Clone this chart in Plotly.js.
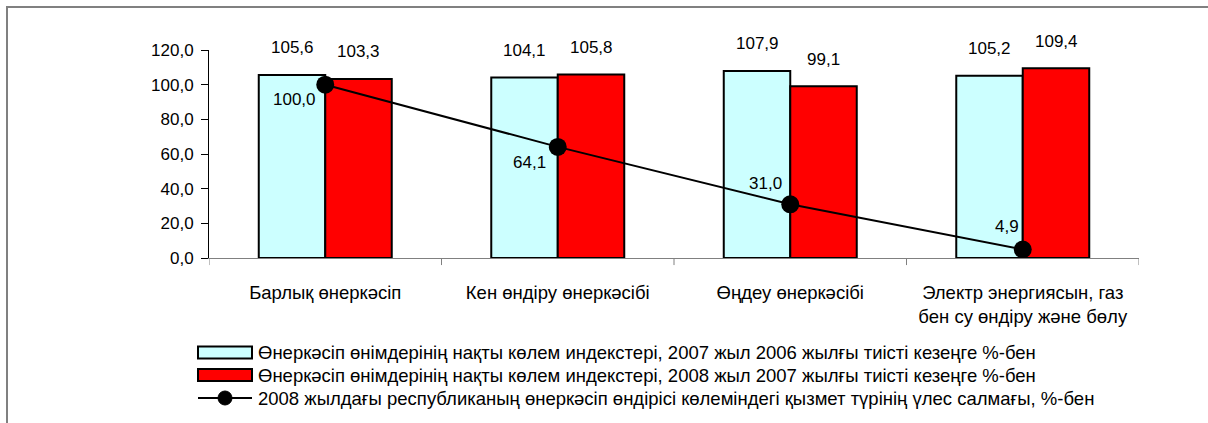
<!DOCTYPE html>
<html>
<head>
<meta charset="utf-8">
<script src="https://cdn.plot.ly/plotly-3.0.1.min.js"></script>
<style>
  html, body { margin: 0; padding: 0; background: #fff; }
  #wrap { position: relative; width: 1208px; height: 423px; overflow: hidden; }
  #chart { position: absolute; left: 0; top: 0; width: 1208px; height: 423px; }
  #frame { position: absolute; left: 6px; top: 6px; width: 1400px; height: 600px;
           border-left: 2px solid #808080; border-top: 2px solid #808080; pointer-events: none; }
</style>
</head>
<body>
<div id="wrap">
  <div id="chart"></div>
  <div id="frame"></div>
</div>
<script>
// ---- data ----
const categories = [
  "Барлық өнеркәсіп",
  "Кен өндіру өнеркәсібі",
  "Өңдеу өнеркәсібі",
  "Электр энергиясын, газ<br>бен су өндіру және бөлу"
];
const index2007 = [105.6, 104.1, 107.9, 105.2];
const index2008 = [103.3, 105.8, 99.1, 109.4];
const share2008 = [100.0, 64.1, 31.0, 4.9];
const seriesNames = [
  "Өнеркәсіп өнімдерінің нақты көлем индекстері, 2007 жыл 2006 жылғы тиісті кезеңге %-бен",
  "Өнеркәсіп өнімдерінің нақты көлем индекстері, 2008 жыл 2007 жылғы тиісті кезеңге %-бен",
  "2008 жылдағы республиканың өнеркәсіп өндірісі көлеміндегі қызмет түрінің үлес салмағы, %-бен"
];
const yTickVals = [0, 20, 40, 60, 80, 100, 120];

// ---- styles ----
const FONT = "Liberation Sans, Arial, sans-serif";
const NUM_SIZE = 17;
const TXT_SIZE = 18.5;
const BAR_COLORS = ["#CCFFFF", "#FF0000"];
const fmt = v => v.toFixed(1).replace(".", ",");
const BARGAP = 0.428;
const barHalf = (1 - BARGAP) / 4; // offset of each bar centre from category centre
const lineLabelShift = [[-31, -15], [-28, -16], [-25, 21], [-16, 23]];

// plot-area geometry (px) used to place the legend block below the plot
const PL = 209, PR = 1139, PT = 50, PB = 258;
const px2x = p => (p - PL) / (PR - PL);
const px2y = p => (PB - p) / (PB - PT);

const idx = categories.map((_, i) => i);

const traces = [
  {
    type: "bar", name: seriesNames[0], x: idx, y: index2007,
    marker: { color: BAR_COLORS[0], line: { color: "#000000", width: 2 } },
    hoverinfo: "skip"
  },
  {
    type: "bar", name: seriesNames[1], x: idx, y: index2008,
    marker: { color: BAR_COLORS[1], line: { color: "#000000", width: 2 } },
    hoverinfo: "skip"
  },
  {
    type: "scatter", mode: "lines+markers", name: seriesNames[2], x: idx, y: share2008,
    line: { color: "#000000", width: 2 },
    marker: { color: "#000000", size: 18 },
    cliponaxis: false,
    hoverinfo: "skip"
  }
];

const numFont = { family: FONT, size: NUM_SIZE, color: "#000" };
const txtFont = { family: FONT, size: TXT_SIZE, color: "#000" };
const annotations = [];
idx.forEach(i => {
  annotations.push({ x: i - barHalf, y: index2007[i], xref: "x", yref: "y", text: fmt(index2007[i]),
    showarrow: false, yshift: 27, font: numFont });
  annotations.push({ x: i + barHalf, y: index2008[i], xref: "x", yref: "y", text: fmt(index2008[i]),
    showarrow: false, yshift: 27, font: numFont });
  annotations.push({ x: i, y: share2008[i], xref: "x", yref: "y", text: fmt(share2008[i]),
    showarrow: false, xshift: lineLabelShift[i][0], yshift: lineLabelShift[i][1],
    font: numFont });
});

// legend block (symbols + names)
const legRowsY = [352.5, 375, 398];
const legSymX0 = 198, legSymX1 = 252, legTextX = 256;
const shapes = [-0.5, 0.5, 1.5, 2.5, 3.5].map(b => ({
  type: "line", xref: "x", yref: "paper", x0: b, x1: b, y0: 0, y1: -0.034,
  line: { color: "#808080", width: 1 }
}));
seriesNames.forEach((name, k) => {
  const yc = legRowsY[k];
  if (k < 2) {
    shapes.push({ type: "rect", xref: "paper", yref: "paper",
      x0: px2x(legSymX0), x1: px2x(legSymX1), y0: px2y(yc + 6), y1: px2y(yc - 6),
      fillcolor: BAR_COLORS[k], line: { color: "#000", width: 2 } });
  } else {
    shapes.push({ type: "line", xref: "paper", yref: "paper",
      x0: px2x(legSymX0), x1: px2x(legSymX1), y0: px2y(yc), y1: px2y(yc),
      line: { color: "#000", width: 2 } });
    shapes.push({ type: "circle", xref: "paper", yref: "paper",
      xsizemode: "pixel", ysizemode: "pixel",
      xanchor: px2x((legSymX0 + legSymX1) / 2), yanchor: px2y(yc),
      x0: -7, x1: 7, y0: -7, y1: 7,
      fillcolor: "#000", line: { color: "#000", width: 1 } });
  }
  annotations.push({ xref: "paper", yref: "paper", x: px2x(legTextX), y: px2y(yc),
    xanchor: "left", yanchor: "middle", text: name, showarrow: false, font: txtFont });
});

const layout = {
  width: 1208, height: 423,
  margin: { l: PL, r: 1208 - PR, t: PT, b: 423 - PB, autoexpand: false },
  paper_bgcolor: "#ffffff", plot_bgcolor: "#ffffff",
  font: { family: FONT, size: TXT_SIZE, color: "#000000" },
  separators: ", ",
  barmode: "group", bargap: BARGAP, bargroupgap: 0,
  showlegend: false,
  xaxis: {
    type: "linear", range: [-0.5, 3.5],
    tickmode: "array", tickvals: idx, ticktext: categories,
    showgrid: false, zeroline: false,
    showline: true, linecolor: "#808080", linewidth: 1,
    ticks: "", ticklabelstandoff: 18,
    tickfont: txtFont
  },
  yaxis: {
    range: [0, 120], tickmode: "array", tickvals: yTickVals,
    tickformat: ".1f",
    showgrid: false, zeroline: false,
    showline: true, linecolor: "#000000", linewidth: 1,
    ticks: "outside", ticklen: 7, tickcolor: "#000000",
    ticklabelstandoff: 4,
    tickfont: numFont
  },
  shapes: shapes,
  annotations: annotations
};

Plotly.newPlot("chart", traces, layout, { displayModeBar: false, staticPlot: true });
</script>
</body>
</html>
